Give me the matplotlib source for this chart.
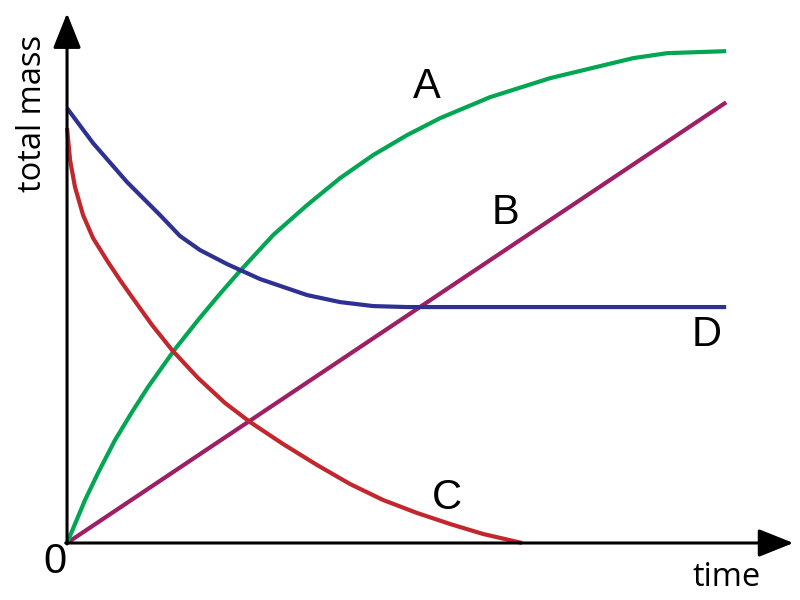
import matplotlib
matplotlib.use("Agg")
from matplotlib import pyplot as plt

# curve values (time 0..10, total mass 0..10)
a_time = [0, 0.273, 0.470, 0.728, 0.986, 1.229, 1.487, 1.639, 1.988, 2.291, 2.595,
          3.126, 3.642, 4.143, 4.643, 5.159, 5.660, 6.419, 7.329, 8.589, 9.105, 10.0]
a_mass = [0, 0.874, 1.423, 2.093, 2.663, 3.171, 3.659, 3.943, 4.533, 5.020, 5.488,
          6.260, 6.870, 7.419, 7.886, 8.293, 8.638, 9.065, 9.451, 9.858, 9.959, 10.0]

b_time = [0, 10.0]
b_mass = [0, 8.96]

c_time = [0, 0.046, 0.121, 0.243, 0.395, 0.622, 0.804, 0.986, 1.290, 1.593, 1.988,
          2.398, 2.777, 3.278, 3.794, 4.294, 4.795, 5.311, 5.812, 6.313, 6.904]
c_mass = [8.435, 7.785, 7.236, 6.667, 6.199, 5.711, 5.346, 5.000, 4.431, 3.923, 3.354,
          2.845, 2.459, 2.012, 1.585, 1.199, 0.874, 0.610, 0.386, 0.183, 0]

d_time = [0, 0.395, 0.911, 1.411, 1.715, 2.018, 2.428, 2.929, 3.642, 4.143, 4.643,
          5.159, 10.0]
d_mass = [8.841, 8.130, 7.337, 6.667, 6.240, 5.955, 5.671, 5.366, 5.041, 4.898, 4.817,
          4.797, 4.797]

curve_labels = ["A", "B", "C", "D"]
label_pos = [(5.46, 9.27), (6.65, 6.71), (5.77, 0.91), (9.70, 4.23)]

colors = {"A": "#00a651", "B": "#9e1f63", "C": "#c1272d", "D": "#2e3192"}

fig = plt.figure(figsize=(8, 6), dpi=100)
ax = fig.add_axes([0, 0, 1, 1])
ax.set_xlim(-1.017, 11.12)
ax.set_ylim(-1.159, 11.04)
ax.axis("off")

# axes with arrow heads
arrow = dict(arrowstyle="-|>,head_length=0.4,head_width=0.16", mutation_scale=54,
             color="black", lw=2.2, shrinkA=0, shrinkB=0)
ax.annotate("", xy=(0, 10.77), xytext=(0, -0.02), arrowprops=arrow)
ax.annotate("", xy=(11.02, 0), xytext=(-0.02, 0), arrowprops=arrow)

style = dict(lw=3.0, solid_capstyle="butt", solid_joinstyle="round")
ax.plot(b_time, b_mass, color=colors["B"], **style)
ax.plot(a_time, a_mass, color=colors["A"], **style)
ax.plot(c_time, c_mass, color=colors["C"], **style)
ax.plot(d_time, d_mass, color=colors["D"], **style)

for name, (x, y) in zip(curve_labels, label_pos):
    ax.text(x, y, name, fontsize=30, family="Liberation Sans",
            ha="center", va="center")

ax.text(-0.182, -0.386, "0", fontsize=30, family="Liberation Sans",
        ha="center", va="center")
ax.text(10.0, -0.70, "time", fontsize=23.5, family="Open Sans",
        ha="center", va="center")
ax.text(-0.531, 8.74, "total mass", fontsize=23.5, family="Open Sans",
        rotation=90, ha="center", va="center")

fig.savefig("out.png", dpi=100)
